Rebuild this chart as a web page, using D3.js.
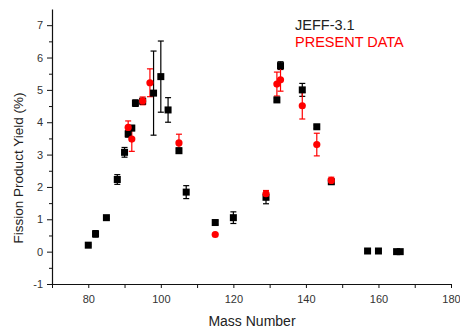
<!DOCTYPE html>
<html>
<head>
<meta charset="utf-8">
<script src="https://cdn.jsdelivr.net/npm/d3@7"></script>
<style>
  body { margin: 0; background: #fff; }
  svg text { font-family: "Liberation Sans", Arial, sans-serif; }
</style>
</head>
<body>
<svg id="chart" width="460" height="330"></svg>
<script>
// JEFF-3.1 evaluated yields
const jeffMass = [80, 82, 85, 88, 90, 91, 92, 93, 95, 98, 100, 102, 105, 107, 115, 120, 129, 132, 133, 139, 143, 147, 157, 160, 165, 166]
const jeffYield = [0.2, 0.55, 1.05, 2.23, 3.07, 3.64, 3.82, 4.59, 4.65, 4.9, 5.41, 4.38, 3.12, 1.84, 0.9, 1.05, 1.68, 4.69, 5.75, 5.0, 3.86, 2.16, 0.02, 0.02, 0.0, 0.0]
const jeffErr = [0.03, 0.1, 0.03, 0.15, 0.15, 0.1, 0.08, 0.1, 0.08, 1.3, 1.1, 0.38, 0.08, 0.2, 0.05, 0.18, 0.2, 0.05, 0.12, 0.2, 0.05, 0.08, 0, 0, 0, 0]

// present measurement
const presentMass = [91, 92, 95, 97, 105, 115, 129, 132, 133, 139, 143, 147]
const presentYield = [3.84, 3.48, 4.66, 5.22, 3.36, 0.53, 1.79, 5.18, 5.31, 4.51, 3.31, 2.2]
const presentErr = [0.2, 0.38, 0.12, 0.43, 0.27, 0, 0.1, 0.37, 0.35, 0.41, 0.35, 0.1]

const xMajorTicks = [80, 100, 120, 140, 160, 180]
const xMinorTicks = [70, 90, 110, 130, 150, 170]
const yMajorTicks = [-1, 0, 1, 2, 3, 4, 5, 6, 7]
const yMinorTicks = [-0.5, 0.5, 1.5, 2.5, 3.5, 4.5, 5.5, 6.5]

const svg = d3.select('#chart')
const x = d3.scaleLinear().domain([70, 180]).range([52, 451])
const y = d3.scaleLinear().domain([-1, 7.5]).range([284, 9])

const axisColor = '#111'
const textColor = '#333'

// axes
const xAxis = svg.append('g').attr('transform', 'translate(0,284)')
xAxis.call(d3.axisBottom(x).tickValues(xMajorTicks).tickSize(4).tickSizeOuter(0).tickFormat(d => String(d)))
xAxis.append('g').call(d3.axisBottom(x).tickValues(xMinorTicks).tickSize(4).tickFormat(''))
const yAxis = svg.append('g').attr('transform', 'translate(52,0)')
yAxis.call(d3.axisLeft(y).tickValues(yMajorTicks).tickSize(5).tickSizeOuter(0).tickFormat(d => String(d)))
yAxis.append('g').call(d3.axisLeft(y).tickValues(yMinorTicks).tickSize(3).tickFormat(''))

svg.selectAll('.domain').attr('stroke', axisColor).attr('stroke-width', 1.2)
svg.selectAll('.tick line').attr('stroke', axisColor)
svg.selectAll('.tick text').attr('fill', textColor).style('font-size', '11px')
xAxis.selectAll('.tick text').attr('dy', '1.1em')
yAxis.selectAll('.tick text').attr('x', -9)
svg.selectAll('g > g .domain').remove()

// axis titles
svg.append('text')
  .attr('x', 252).attr('y', 326)
  .attr('text-anchor', 'middle')
  .attr('fill', '#222')
  .style('font-size', '14px')
  .text('Mass Number')
svg.append('text')
  .attr('transform', 'translate(23,168) rotate(-90)')
  .attr('text-anchor', 'middle')
  .attr('fill', '#222')
  .style('font-size', '13.5px')
  .text('Fission Product Yield (%)')

// error bars
function drawErrors(mass, vals, errs, color) {
  const g = svg.append('g').attr('stroke', color).attr('stroke-width', 1.2)
  mass.forEach((m, i) => {
    if (!errs[i]) return
    const cx = x(m)
    const y1 = y(vals[i] + errs[i])
    const y2 = y(vals[i] - errs[i])
    g.append('line').attr('x1', cx).attr('x2', cx).attr('y1', y1).attr('y2', y2)
    g.append('line').attr('x1', cx - 3).attr('x2', cx + 3).attr('y1', y1).attr('y2', y1)
    g.append('line').attr('x1', cx - 3).attr('x2', cx + 3).attr('y1', y2).attr('y2', y2)
  })
}

drawErrors(jeffMass, jeffYield, jeffErr, '#000')
drawErrors(presentMass, presentYield, presentErr, '#ff0000')

svg.append('g').selectAll('rect')
  .data(jeffMass)
  .join('rect')
  .attr('x', (d, i) => x(d) - 3.5)
  .attr('y', (d, i) => y(jeffYield[i]) - 3.5)
  .attr('width', 7)
  .attr('height', 7)
  .attr('fill', '#000')

svg.append('g').selectAll('circle')
  .data(presentMass)
  .join('circle')
  .attr('cx', d => x(d))
  .attr('cy', (d, i) => y(presentYield[i]))
  .attr('r', 3.6)
  .attr('fill', '#ff0000')

// legend
svg.append('text')
  .attr('x', 295).attr('y', 30)
  .attr('fill', '#222')
  .style('font-size', '14.5px')
  .text('JEFF-3.1')
svg.append('text')
  .attr('x', 295).attr('y', 47)
  .attr('fill', '#ff0000')
  .style('font-size', '14.5px')
  .text('PRESENT DATA')
</script>
</body>
</html>
